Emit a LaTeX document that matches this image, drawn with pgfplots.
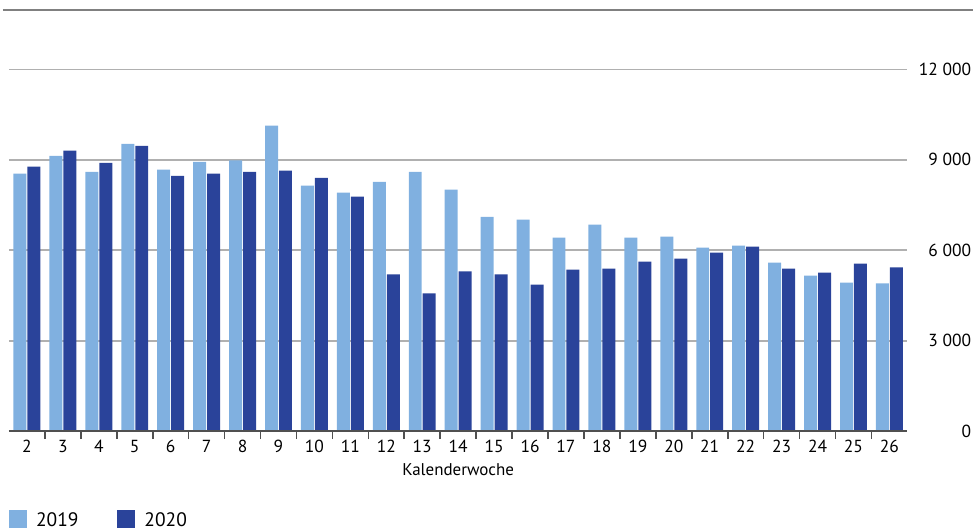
\documentclass[border=0pt]{standalone}
\usepackage{pgfplots}
\pgfplotsset{compat=1.18}
\usepackage{fontspec}
\setmainfont{PT Sans}
\definecolor{light}{HTML}{80B0E0}
\definecolor{dark}{HTML}{2A439A}
\definecolor{gridgray}{HTML}{B0B0B0}
\definecolor{axisgray}{HTML}{505050}
\definecolor{topgray}{HTML}{808080}
\begin{document}
\begin{tikzpicture}
\begin{axis}[
  scale only axis,
  width=900pt, height=423pt,
  xmin=1.5, xmax=26.5,
  ymin=0, ymax=14000,
  ybar=1pt, bar width=13pt,
  axis line style={draw=none},
  xtick={2,3,...,26},
  minor xtick={2.5,3.5,...,25.5},
  xtick pos=bottom,
  major tick length=0pt,
  minor tick length=8pt,
  tick align=outside,
  minor x tick style={draw=axisgray, line width=1.6pt},
  ytick={0,3000,6000,9000,12000},
  scaled y ticks=false,
  ytick style={draw=none},
  yticklabel pos=right,
  ymajorgrids,
  grid style={gridgray, line width=1.6pt},
  /pgf/number format/assume math mode=true,
  /pgf/number format/1000 sep={\ },
  ticklabel style={font=\fontsize{17.5}{20}\selectfont},
  yticklabel style={anchor=east, xshift=64pt, inner sep=0pt},
  xticklabel style={inner sep=0pt, yshift=-9pt},
  xlabel={Kalenderwoche},
  xlabel style={font=\fontsize{17}{20}\selectfont, inner sep=0pt, yshift=-10pt},
  legend style={draw=none, fill=none, inner sep=0pt, at={(axis description cs:0,0)}, anchor=north west, yshift=-79pt,
    font=\fontsize{19.5}{22}\selectfont, legend columns=2,
    nodes={inner sep=0pt},
    /tikz/every odd column/.append style={column sep=9pt},
    /tikz/every even column/.append style={column sep=39pt}},
  legend image code/.code={\fill[#1,draw=none] (0pt,-8pt) rectangle (18pt,10pt);},
]
\addplot[fill=light, draw=none] coordinates {
(2,8540) (3,9130) (4,8600) (5,9530) (6,8670) (7,8930) (8,8980) (9,10130) (10,8140) (11,7910) (12,8270) (13,8600) (14,8010) (15,7110) (16,7020) (17,6420) (18,6850) (19,6420) (20,6450) (21,6090) (22,6150) (23,5590) (24,5160) (25,4930) (26,4900)};
\addplot[fill=dark, draw=none] coordinates {
(2,8770) (3,9300) (4,8900) (5,9460) (6,8470) (7,8540) (8,8600) (9,8640) (10,8400) (11,7780) (12,5200) (13,4570) (14,5300) (15,5200) (16,4860) (17,5360) (18,5390) (19,5620) (20,5720) (21,5920) (22,6120) (23,5390) (24,5260) (25,5560) (26,5430)};
\legend{2019,2020}
\draw[axisgray, line width=2.5pt] (rel axis cs:0,0) -- (rel axis cs:1,0);
\end{axis}
\draw[topgray, line width=2.5pt] ([xshift=-6pt,yshift=-1pt]current axis.north west) -- ([xshift=65.5pt,yshift=-1pt]current axis.north east);
\path ([xshift=-9pt,yshift=9pt]current axis.north west) rectangle ([xshift=65.5pt,yshift=-98pt]current axis.south east);
\end{tikzpicture}
\end{document}
